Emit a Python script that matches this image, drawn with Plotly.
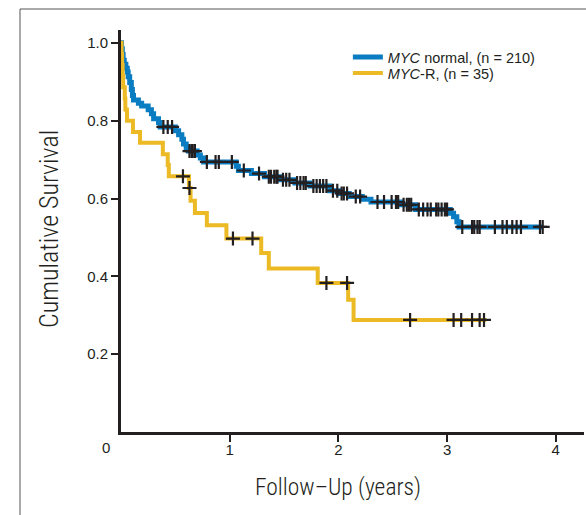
import numpy as np
import plotly.graph_objects as go

# ---- data ----
blue_event_t = [0.005, 0.012, 0.02, 0.03, 0.045, 0.058, 0.066, 0.08, 0.095, 0.105, 0.115,
                0.16, 0.19, 0.25, 0.28, 0.30, 0.345, 0.36, 0.5, 0.53, 0.56, 0.575, 0.6, 0.62,
                0.7, 0.73, 0.76, 1.06, 1.08, 1.2, 1.32, 1.47, 1.6, 1.74, 1.92, 2.0, 2.1, 2.22,
                2.3, 2.58, 2.71, 3.03, 3.06, 3.09, 3.11]
blue_event_s = [0.985, 0.97, 0.955, 0.945, 0.935, 0.925, 0.913, 0.898, 0.88, 0.865, 0.853,
                0.845, 0.838, 0.828, 0.818, 0.805, 0.795, 0.784, 0.774, 0.764, 0.752, 0.740, 0.73, 0.722,
                0.712, 0.704, 0.694, 0.683, 0.672, 0.664, 0.656, 0.648, 0.64, 0.632, 0.62, 0.613, 0.605, 0.598,
                0.591, 0.584, 0.572, 0.562, 0.553, 0.54, 0.527]
blue_censor_t = [0.39, 0.43, 0.47, 0.63, 0.65, 0.66, 0.68, 0.79, 0.87, 0.9, 1.02, 1.13, 1.27,
                 1.36, 1.38, 1.41, 1.43, 1.44, 1.49, 1.52, 1.55, 1.62, 1.65, 1.68, 1.7, 1.77, 1.8,
                 1.83, 1.86, 1.89, 1.95, 1.99, 2.03, 2.05, 2.08, 2.16, 2.2, 2.36, 2.42, 2.49, 2.53,
                 2.55, 2.6, 2.63, 2.65, 2.67, 2.74, 2.78, 2.82, 2.85, 2.9, 2.92, 2.95, 2.98, 3.0,
                 3.14, 3.23, 3.25, 3.28, 3.30, 3.44, 3.51, 3.55, 3.6, 3.64, 3.68, 3.855, 3.88]
blue_end_t = 3.88

yellow_event_t = [0.005, 0.01, 0.015, 0.02, 0.035, 0.04, 0.055, 0.11, 0.175, 0.385, 0.43, 0.44,
                  0.625, 0.64, 0.68, 0.79, 0.97, 1.29, 1.36, 1.81, 2.09, 2.14]
yellow_event_s = [0.971, 0.943, 0.914, 0.886, 0.857, 0.829, 0.80, 0.771, 0.743, 0.714, 0.686, 0.657,
                  0.627, 0.594, 0.563, 0.531, 0.497, 0.46, 0.42, 0.383, 0.34, 0.288]
yellow_censor_t = [0.57, 0.63, 1.03, 1.21, 1.89, 2.08, 2.66, 3.06, 3.13, 3.23, 3.30, 3.34]
yellow_end_t = 3.36

names = ["<i>MYC</i> normal, (n = 210)", "<i>MYC</i>-R, (n = 35)"]
colors = ["#0a7cc1", "#ebba24"]
x_ticks = [1, 2, 3, 4]
y_ticks = [0.2, 0.4, 0.6, 0.8, 1.0]
y_tick_text = ["0.2", "0.4", "0.6", "0.8", "1.0"]


def step_xy(et, es, end_t):
    x = [0.0] + list(et) + [end_t]
    y = [1.0] + list(es) + [es[-1]]
    return x, y


def surv_at(t, et, es):
    s = 1.0
    for ti, si in zip(et, es):
        if ti <= t:
            s = si
    return s


fig = go.Figure()
groups = [(blue_event_t, blue_event_s, blue_censor_t, blue_end_t, 5),
          (yellow_event_t, yellow_event_s, yellow_censor_t, yellow_end_t, 4)]
legend_ids = ["legend", "legend2"]
for (et, es, ct, end_t, w), name, col, lg in zip(groups, names, colors, legend_ids):
    x, y = step_xy(et, es, end_t)
    fig.add_trace(go.Scatter(x=x, y=y, mode="lines", line=dict(color=col, width=w, shape="hv"),
                             name=name, legend=lg))
for (et, es, ct, end_t, w) in groups:
    fig.add_trace(go.Scatter(x=ct, y=[surv_at(t, et, es) for t in ct], mode="markers",
                             marker=dict(symbol="cross-thin", size=10,
                                         line=dict(color="#231f20", width=2.2)),
                             showlegend=False, hoverinfo="skip"))

axis_col = "#231f20"
tick_font = dict(family="Liberation Sans", size=15, color="#231f20")
fig.update_xaxes(range=[0, 4.26], tickvals=x_ticks, ticks="outside", ticklen=7, tickwidth=1.5,
                 tickcolor=axis_col, showline=True, linewidth=3, linecolor=axis_col,
                 showgrid=False, zeroline=False, tickfont=tick_font, ticklabelstandoff=-5)
fig.update_yaxes(range=[0, 1.033], tickvals=y_ticks, ticktext=y_tick_text, ticks="outside",
                 ticklen=7, tickwidth=1.5, tickcolor=axis_col, showline=True, linewidth=3,
                 linecolor=axis_col, showgrid=False, zeroline=False, tickfont=tick_font)

xtitle_font = dict(family="Roboto Condensed", size=23.5, color="#231f20", weight=300)
ytitle_font = dict(family="Roboto Condensed", size=26, color="#231f20", weight=300)
legend_font = dict(family="Liberation Sans", size=14.5, color="#231f20")
fig.update_layout(
    width=586, height=515,
    margin=dict(l=121, r=2, t=30, b=83),
    paper_bgcolor="white", plot_bgcolor="white",
    showlegend=True,
    legend=dict(x=0.49, y=0.9725, xanchor="left", yanchor="top", bgcolor="rgba(0,0,0,0)",
                font=legend_font, itemwidth=30),
    legend2=dict(x=0.49, y=0.9725 - 16 / 402, xanchor="left", yanchor="top",
                 bgcolor="rgba(0,0,0,0)", font=legend_font, itemwidth=30),
    annotations=[
        dict(text="0", x=(106 - 121) / 463, y=-(447 - 432) / 402, xref="paper", yref="paper",
             xanchor="center", yanchor="middle", showarrow=False, font=tick_font),
        dict(text="Follow\u2013Up (years)", x=(338 - 121) / 463, y=-(487 - 432) / 402,
             xref="paper", yref="paper", xanchor="center", yanchor="middle",
             showarrow=False, font=xtitle_font),
        dict(text="Cumulative Survival", x=-(121 - 49) / 463, y=(432 - 229) / 402,
             xref="paper", yref="paper", xanchor="center", yanchor="middle",
             showarrow=False, textangle=-90, font=ytitle_font),
    ],
    shapes=[
        dict(type="line", xref="paper", yref="paper", x0=-(121 - 20) / 463, x1=-(121 - 20) / 463,
             y0=(432 - 9) / 402, y1=-(520 - 432) / 402, line=dict(color="#555555", width=1)),
        dict(type="line", xref="paper", yref="paper", x0=-(121 - 20) / 463, x1=1.1,
             y0=(432 - 9) / 402, y1=(432 - 9) / 402, line=dict(color="#555555", width=1)),
    ],
)
fig.write_html("out.html")
